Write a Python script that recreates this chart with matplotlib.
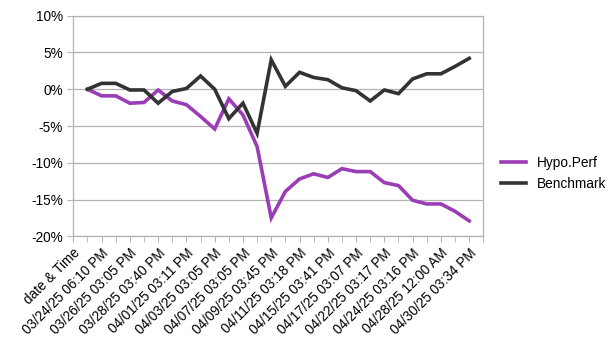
import numpy as np
import matplotlib.pyplot as plt
from matplotlib.ticker import FuncFormatter

# category labels shown on the axis (every second category)
shown_labels = ["date & Time", "03/24/25 06:10 PM", "03/26/25 03:05 PM", "03/28/25 03:40 PM",
                "04/01/25 03:11 PM", "04/03/25 03:05 PM", "04/07/25 03:05 PM", "04/09/25 03:45 PM",
                "04/11/25 03:18 PM", "04/15/25 03:41 PM", "04/17/25 03:07 PM", "04/22/25 03:17 PM",
                "04/24/25 03:16 PM", "04/28/25 12:00 AM", "04/30/25 03:34 PM"]
n_categories = 30  # header row + 28 data rows + one blank row

# values in percent, categories 1..28
hypo_perf = [0.0, -0.9, -0.9, -1.9, -1.8, -0.1, -1.6, -2.1, -3.7, -5.4, -1.3, -3.5, -7.8, -17.5,
             -13.9, -12.2, -11.5, -12.0, -10.8, -11.2, -11.2, -12.7, -13.1, -15.1, -15.6, -15.6,
             -16.6, -17.9]
benchmark = [0.0, 0.8, 0.8, -0.1, -0.1, -1.9, -0.3, 0.1, 1.8, 0.0, -4.0, -1.9, -6.0, 4.0,
             0.4, 2.3, 1.6, 1.3, 0.2, -0.2, -1.6, -0.1, -0.6, 1.4, 2.1, 2.1, 3.1, 4.2]

x = np.arange(1, len(hypo_perf) + 1)

plt.rcParams['font.family'] = ['Liberation Sans', 'DejaVu Sans']
fs = 9.8
fig = plt.figure(figsize=(6.11, 3.61), dpi=100)
ax = fig.add_axes([0.12, 0.3454, 0.671, 0.6111])

ax.plot(x, hypo_perf, color='#9b3db5', lw=2.6, label='Hypo.Perf', solid_joinstyle='miter')
ax.plot(x, benchmark, color='#333333', lw=2.6, label='Benchmark', solid_joinstyle='miter')

ax.set_xlim(0, n_categories - 1)
ax.set_ylim(-20, 10)
ax.set_yticks(np.arange(-20, 11, 5))
ax.yaxis.set_major_formatter(FuncFormatter(lambda v, p: f"{v:.0f}%"))
ax.yaxis.grid(True, color='#b3b3b3', lw=0.9)
ax.set_axisbelow(True)

ax.set_xticks(np.arange(0, n_categories, 2))
ax.set_xticks(np.arange(1, n_categories, 2), minor=True)
ax.set_xticklabels(shown_labels, rotation=45, ha='right', va='top', rotation_mode='anchor')
ax.tick_params(axis='x', which='both', length=4, color='#b3b3b3', labelsize=fs, pad=3)
ax.tick_params(axis='y', length=4, color='#b3b3b3', labelsize=fs, pad=3.5)

for s in ax.spines.values():
    s.set_color('#b3b3b3')
    s.set_linewidth(0.9)

ax.legend(loc='center left', bbox_to_anchor=(0.8044, 0.519), bbox_transform=fig.transFigure,
          frameon=False, fontsize=fs, handlelength=1.85, handletextpad=0.75,
          labelspacing=0.5, borderpad=0.2)

fig.savefig('out.png', dpi=100)
